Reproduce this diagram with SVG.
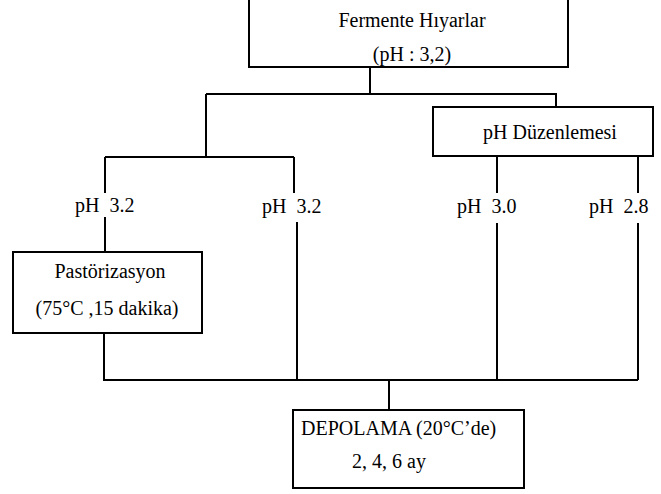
<svg xmlns="http://www.w3.org/2000/svg" width="661" height="494" viewBox="0 0 661 494">
<style>
.box{fill:#fff;stroke:#000;stroke-width:2}
.ln{fill:none;stroke:#000;stroke-width:2}
text{font-family:"Liberation Serif","Times New Roman",serif;font-size:20px;fill:#000;white-space:pre}
.m{text-anchor:middle}
</style>
<rect width="661" height="494" fill="#fff"/>
<g id="connectors">
<path class="ln" d="M370,67 V94 M206,94 H556 V107"/>
<path class="ln" d="M105,157 H294 M206,94 V157"/>
<path class="ln" d="M105,157 V193 M105,217 V252"/>
<path class="ln" d="M294,157 V193 M297,222 V380"/>
<path class="ln" d="M497,156 V193 M497,223 V380"/>
<path class="ln" d="M638,156 V193 M638,223 V380"/>
<path class="ln" d="M104,333 V380 H638"/>
<path class="ln" d="M389,380 V410"/>
</g>
<g id="fermente">
<rect class="box" x="249" y="-2" width="319" height="69"/>
<text class="m" x="412" y="27">Fermente Hıyarlar</text>
<text class="m" x="412" y="61">(pH : 3,2)</text>
</g>
<g id="duzenleme">
<rect class="box" x="433" y="107" width="220" height="49"/>
<text class="m" x="550" y="139">pH Düzenlemesi</text>
</g>
<g id="ph1"><text x="75" y="212" xml:space="preserve">pH  3.2</text></g>
<g id="ph2"><text x="262" y="213" xml:space="preserve">pH  3.2</text></g>
<g id="ph3"><text x="457" y="213" xml:space="preserve">pH  3.0</text></g>
<g id="ph4"><text x="589" y="213" xml:space="preserve">pH  2.8</text></g>
<g id="pastorizasyon">
<rect class="box" x="13" y="252" width="189" height="81"/>
<text class="m" x="110" y="278" font-size="21">Pastörizasyon</text>
<text class="m" x="107" y="315" font-size="21">(75°C ,15 dakika)</text>
</g>
<g id="depolama">
<rect class="box" x="293" y="410" width="231" height="78"/>
<text x="301" y="435" font-size="21">DEPOLAMA (20°C’de)</text>
<text x="352" y="468" font-size="21">2, 4, 6 ay</text>
</g>
</svg>
